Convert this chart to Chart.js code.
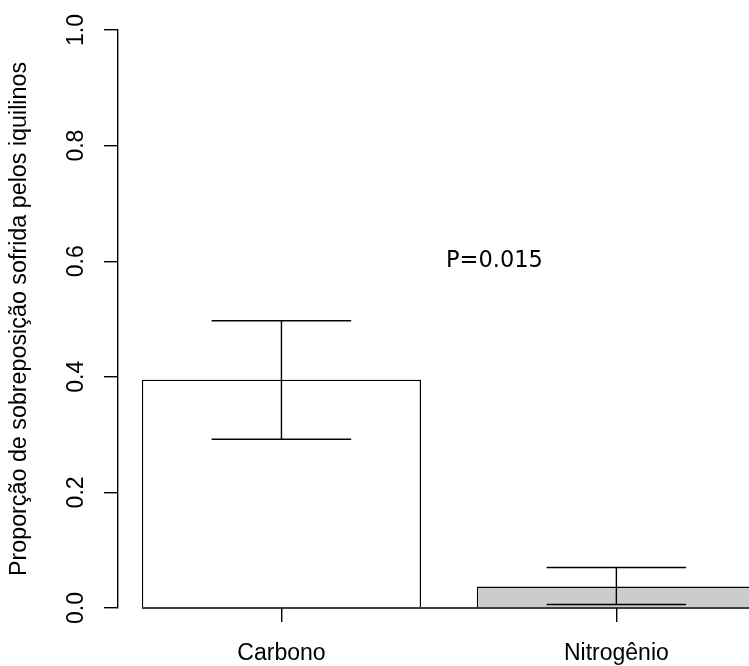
<!DOCTYPE html>
<html>
<head>
<meta charset="utf-8">
<script src="https://cdn.jsdelivr.net/npm/chart.js@4/dist/chart.umd.min.js"></script>
<style>
  html, body { margin: 0; padding: 0; background: #fff; }
  #wrap { width: 749px; height: 666px; }
</style>
</head>
<body>
<div id="wrap"><canvas id="barChart" width="749" height="666"></canvas></div>
<script>
// dados
var categorias = ['Carbono', 'Nitrogênio'];
var posicoes = [1, 2];
var medias = [0.395, 0.037];
var limInferior = [0.292, 0.006];
var limSuperior = [0.497, 0.070];
var coresBarras = ['#ffffff', '#cccccc'];
var yTicks = [0, 0.2, 0.4, 0.6, 0.8, 1.0];
var textoP = 'P=0.015';
var posTextoP = { x: 1.636, y: 0.6 };

var fonteEixo = { family: '"Liberation Sans", Arial, sans-serif', size: 23 };

// barras de erro, linha de base e texto do P
var extras = {
    id: 'extras',
    afterDatasetsDraw: function (chart) {
        var ctx = chart.ctx;
        var xs = chart.scales.x, ys = chart.scales.y;
        var meta = chart.getDatasetMeta(0);
        ctx.save();
        ctx.strokeStyle = '#000';
        ctx.lineWidth = 1.4;

        var y0 = ys.getPixelForValue(0);
        var primeira = meta.data[0];
        ctx.beginPath();
        ctx.moveTo(primeira.x - primeira.width / 2, y0);
        ctx.lineTo(chart.chartArea.right, y0);
        ctx.stroke();

        meta.data.forEach(function (bar, i) {
            var yl = ys.getPixelForValue(limInferior[i]);
            var yu = ys.getPixelForValue(limSuperior[i]);
            var meia = bar.width * 0.25;
            ctx.beginPath();
            ctx.moveTo(bar.x, yl); ctx.lineTo(bar.x, yu);
            ctx.moveTo(bar.x - meia, yl); ctx.lineTo(bar.x + meia, yl);
            ctx.moveTo(bar.x - meia, yu); ctx.lineTo(bar.x + meia, yu);
            ctx.stroke();
        });

        ctx.fillStyle = '#000';
        ctx.font = '22.5px "DejaVu Sans"';
        ctx.textAlign = 'center';
        ctx.textBaseline = 'middle';
        ctx.fillText(textoP, xs.getPixelForValue(posTextoP.x), ys.getPixelForValue(posTextoP.y));
        ctx.restore();
    }
};

var ctx1 = document.getElementById('barChart').getContext('2d');
var barChart = new Chart(ctx1, {
    type: 'bar',
    data: {
        datasets: [{
            data: posicoes.map(function (p, i) { return { x: p, y: medias[i] }; }),
            backgroundColor: coresBarras,
            borderColor: '#000',
            borderWidth: 1.4,
            borderSkipped: 'bottom',
            categoryPercentage: 1,
            barPercentage: 1 / 1.2
        }]
    },
    options: {
        responsive: false,
        animation: false,
        events: [],
        layout: { padding: { top: 30, right: 0, left: 0, bottom: 0 } },
        plugins: { legend: { display: false }, tooltip: { enabled: false } },
        scales: {
            x: {
                type: 'linear',
                offset: false,
                min: 0.512,
                max: 2.396,
                afterBuildTicks: function (scale) {
                    scale.ticks = posicoes.map(function (p) { return { value: p }; });
                },
                afterFit: function (scale) { scale.height = 58; },
                border: { display: false },
                grid: { offset: false, drawOnChartArea: false, tickLength: 14, color: '#000', lineWidth: 1.4 },
                ticks: {
                    color: '#000',
                    font: fonteEixo,
                    padding: 18,
                    maxRotation: 0,
                    callback: function (value) {
                        var i = posicoes.indexOf(value);
                        return i >= 0 ? categorias[i] : '';
                    }
                }
            },
            y: {
                min: 0,
                max: 1,
                afterBuildTicks: function (scale) {
                    scale.ticks = yTicks.map(function (v) { return { value: v }; });
                },
                afterFit: function (scale) { scale.width = 118; },
                border: { display: true, color: '#000', width: 1.4 },
                grid: { drawOnChartArea: false, tickLength: 14, color: '#000', lineWidth: 1.4 },
                ticks: {
                    color: '#000',
                    font: fonteEixo,
                    padding: 11,
                    minRotation: 90,
                    maxRotation: 90,
                    crossAlign: 'center',
                    callback: function (value) { return value.toFixed(1); }
                },
                title: {
                    display: true,
                    text: 'Proporção de sobreposição sofrida pelos iquilinos',
                    color: '#000',
                    font: { family: '"Liberation Sans", Arial, sans-serif', size: 23.3 },
                    padding: { top: 6, bottom: 0 }
                }
            }
        }
    },
    plugins: [extras]
});
</script>
</body>
</html>
